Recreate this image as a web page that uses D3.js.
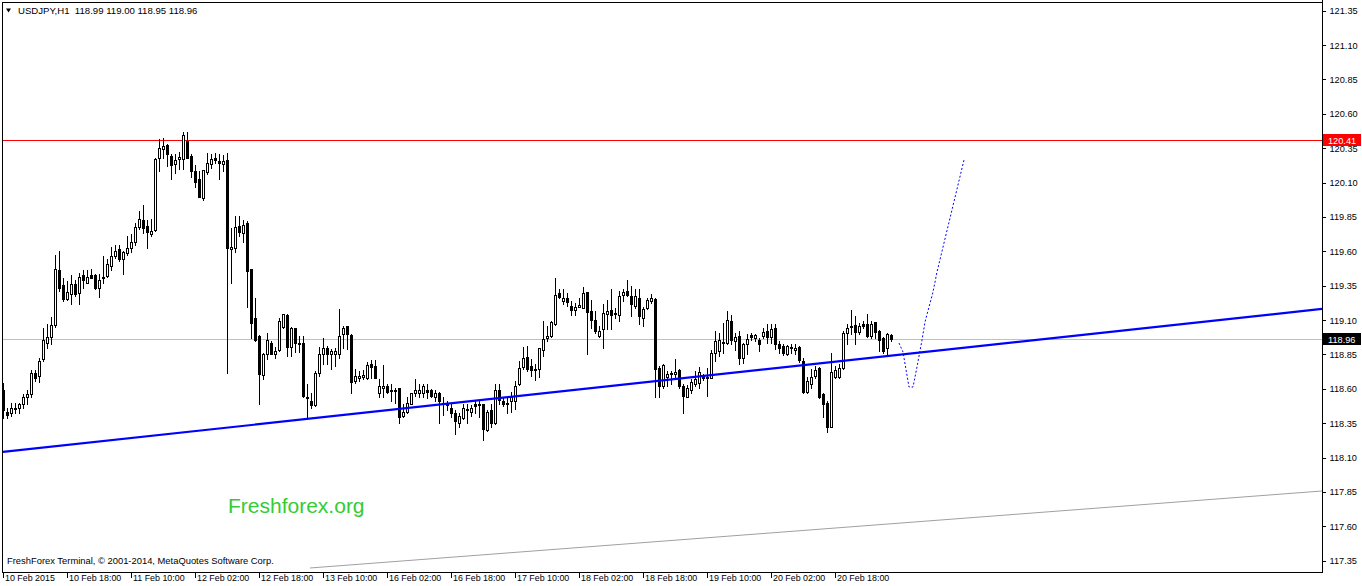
<!DOCTYPE html>
<html><head><meta charset="utf-8">
<script src="https://cdn.jsdelivr.net/npm/d3@7/dist/d3.min.js"></script>
<style>
body{margin:0;background:#fff;}
svg{display:block;font-family:"Liberation Sans",Arial,sans-serif;}
</style>
</head><body>
<svg id="c" width="1362" height="586"></svg>
<script>
// ---------------- DATA ----------------
const symbolTitle = "USDJPY,H1";
const lastQuote = ["118.99", "119.00", "118.95", "118.96"];
const timeLabels = ["10 Feb 2015","10 Feb 18:00","11 Feb 10:00","12 Feb 02:00","12 Feb 18:00","13 Feb 10:00",
  "16 Feb 02:00","16 Feb 18:00","17 Feb 10:00","18 Feb 02:00","18 Feb 18:00","19 Feb 10:00","20 Feb 02:00","20 Feb 18:00"];
const barsPerTimeLabel = 16;
const priceTicks = [121.35,121.10,120.85,120.60,120.35,120.10,119.85,119.60,119.35,119.10,118.85,118.60,118.35,118.10,117.85,117.60,117.35];

const opens = [
118.588,118.428,118.421,118.450,118.457,118.493,118.537,118.559,118.718,118.696,
118.820,118.936,118.979,119.066,119.465,119.356,119.255,119.291,119.363,119.298,
119.429,119.371,119.429,119.429,119.334,119.407,119.421,119.494,119.566,119.617,
119.545,119.588,119.624,119.668,119.777,119.827,119.784,119.726,119.755,120.277,
120.342,120.371,120.291,120.233,120.270,120.270,120.400,120.291,120.183,120.125,
119.987,120.175,120.233,120.277,120.255,120.233,120.262,119.617,119.624,119.784,
119.733,119.806,119.472,119.117,118.986,118.704,118.856,118.936,118.856,118.885,
119.052,119.139,118.907,119.044,118.936,118.936,118.544,118.515,118.479,118.718,
118.856,118.899,118.856,118.856,118.856,119.001,119.059,118.994,118.660,118.682,
118.689,118.682,118.783,118.769,118.566,118.609,118.624,118.588,118.588,118.609,
118.399,118.428,118.493,118.573,118.573,118.573,118.595,118.595,118.537,118.566,
118.493,118.500,118.464,118.421,118.348,118.385,118.443,118.428,118.486,118.479,
118.486,118.298,118.443,118.348,118.595,118.515,118.486,118.508,118.515,118.638,
118.761,118.834,118.769,118.740,118.747,118.885,118.972,118.986,119.073,119.298,
119.240,119.262,119.204,119.175,119.197,119.189,119.305,119.168,119.102,118.986,
119.037,119.146,119.175,119.146,119.139,119.284,119.313,119.276,119.204,119.262,
119.117,119.189,119.240,119.255,118.754,118.617,118.689,118.711,118.711,118.740,
118.617,118.544,118.595,118.638,118.645,118.696,118.682,118.682,118.863,118.878,
118.936,118.936,119.095,118.950,118.986,118.827,118.928,118.994,118.972,118.957,
118.986,119.023,118.979,119.044,118.928,118.914,118.856,118.899,118.885,118.907,
118.805,118.580,118.638,118.696,118.754,118.559,118.500,118.319,118.689,118.689,
118.754,119.008,119.052,119.066,119.015,119.073,119.073,118.986,119.088,119.023,
118.972,118.899,118.990];

const highs = [
118.645,118.464,118.500,118.500,118.500,118.559,118.588,118.740,118.740,118.827,
119.044,119.073,119.124,119.574,119.603,119.407,119.385,119.429,119.392,119.443,
119.465,119.465,119.472,119.436,119.436,119.566,119.545,119.632,119.646,119.646,
119.603,119.711,119.726,119.806,119.893,119.936,119.827,119.835,120.277,120.415,
120.422,120.378,120.306,120.306,120.320,120.465,120.465,120.306,120.226,120.183,
120.190,120.313,120.306,120.313,120.306,120.299,120.313,119.769,119.856,119.856,
119.827,119.820,119.472,119.262,118.994,118.863,119.008,118.950,118.907,119.117,
119.146,119.146,119.052,119.044,118.986,118.986,118.638,118.573,118.733,118.907,
118.972,118.914,118.892,118.899,119.182,119.059,119.059,119.001,118.747,118.733,
118.740,118.798,118.812,118.812,118.675,118.776,118.638,118.638,118.609,118.609,
118.493,118.537,118.573,118.675,118.638,118.638,118.638,118.602,118.588,118.580,
118.537,118.515,118.493,118.443,118.421,118.493,118.493,118.479,118.515,118.522,
118.493,118.443,118.493,118.638,118.638,118.544,118.537,118.580,118.660,118.805,
118.907,118.914,118.820,118.783,118.899,119.095,119.059,119.095,119.407,119.327,
119.327,119.298,119.240,119.226,119.262,119.342,119.305,119.247,119.168,119.059,
119.218,119.247,119.327,119.189,119.313,119.327,119.392,119.349,119.327,119.327,
119.197,119.262,119.291,119.262,118.769,118.783,118.733,118.733,118.820,118.747,
118.638,118.631,118.675,118.733,118.762,118.711,118.754,118.885,119.023,119.008,
119.081,119.168,119.139,119.008,119.023,118.936,119.001,119.008,119.001,118.972,
119.044,119.073,119.073,119.073,118.950,118.928,118.921,118.928,118.928,118.914,
118.827,118.689,118.747,118.769,118.762,118.566,118.515,118.863,118.769,118.783,
119.023,119.073,119.175,119.131,119.081,119.095,119.146,119.095,119.088,119.030,
118.979,119.008,119.000];

const lows = [
118.385,118.385,118.399,118.421,118.421,118.457,118.486,118.537,118.660,118.653,
118.805,118.899,118.928,119.052,119.313,119.240,119.247,119.218,119.276,119.218,
119.334,119.371,119.407,119.327,119.269,119.371,119.414,119.465,119.552,119.530,
119.436,119.574,119.595,119.646,119.762,119.733,119.624,119.711,119.748,120.183,
120.277,120.219,120.125,120.168,120.197,120.197,120.277,120.139,120.067,119.994,
119.972,120.161,120.204,120.241,120.125,120.183,118.718,119.371,119.595,119.711,
119.668,119.197,118.972,118.950,118.493,118.675,118.820,118.856,118.827,118.878,
119.044,118.841,118.841,118.870,118.870,118.537,118.392,118.464,118.472,118.696,
118.783,118.783,118.747,118.769,118.827,118.899,118.892,118.573,118.645,118.660,
118.675,118.675,118.682,118.682,118.544,118.537,118.573,118.515,118.500,118.348,
118.392,118.421,118.486,118.551,118.537,118.537,118.530,118.537,118.515,118.348,
118.406,118.443,118.392,118.269,118.319,118.377,118.348,118.399,118.421,118.392,
118.225,118.290,118.319,118.341,118.493,118.472,118.421,118.428,118.450,118.631,
118.747,118.733,118.696,118.667,118.689,118.841,118.950,118.979,119.066,119.262,
119.218,119.204,119.139,119.139,119.197,119.189,118.856,119.044,119.008,118.979,
118.899,119.037,119.037,119.117,119.095,119.240,119.276,119.131,119.189,119.073,
119.059,119.182,119.226,118.537,118.537,118.609,118.624,118.638,118.675,118.609,
118.421,118.537,118.566,118.624,118.609,118.667,118.551,118.682,118.805,118.841,
118.863,118.928,118.928,118.885,118.783,118.790,118.856,118.957,118.950,118.878,
118.972,118.936,118.936,118.892,118.863,118.849,118.849,118.863,118.856,118.798,
118.573,118.566,118.609,118.682,118.530,118.392,118.283,118.319,118.682,118.682,
118.747,118.928,119.001,118.928,119.001,119.044,118.979,118.972,118.972,118.878,
118.863,118.856,118.950];

const closes = [
118.443,118.406,118.457,118.457,118.486,118.537,118.559,118.718,118.682,118.805,
118.957,118.979,119.066,119.472,119.334,119.255,119.305,119.363,119.291,119.414,
119.392,119.414,119.407,119.334,119.392,119.414,119.508,119.566,119.603,119.545,
119.595,119.624,119.668,119.777,119.835,119.769,119.740,119.748,120.270,120.349,
120.364,120.306,120.226,120.262,120.284,120.444,120.277,120.183,120.103,119.994,
120.190,120.241,120.270,120.262,120.241,120.255,119.624,119.632,119.777,119.740,
119.791,119.458,119.081,118.957,118.711,118.856,118.957,118.856,118.878,119.095,
119.146,118.907,119.044,118.936,118.928,118.551,118.530,118.479,118.718,118.856,
118.899,118.856,118.878,118.878,118.986,119.044,119.001,118.653,118.696,118.696,
118.704,118.776,118.762,118.682,118.617,118.624,118.580,118.595,118.595,118.392,
118.428,118.500,118.566,118.595,118.588,118.624,118.580,118.551,118.573,118.515,
118.500,118.479,118.421,118.363,118.399,118.457,118.450,118.464,118.472,118.486,
118.305,118.428,118.348,118.588,118.522,118.493,118.500,118.537,118.624,118.754,
118.827,118.747,118.740,118.747,118.899,118.965,118.986,119.088,119.284,119.269,
119.262,119.233,119.175,119.197,119.211,119.298,119.160,119.102,119.023,119.023,
119.153,119.168,119.139,119.153,119.276,119.305,119.284,119.218,119.276,119.131,
119.182,119.247,119.262,118.747,118.617,118.776,118.711,118.718,118.725,118.617,
118.551,118.609,118.653,118.675,118.725,118.682,118.689,118.863,118.950,118.957,
118.943,119.102,118.957,118.979,118.827,118.928,118.965,118.979,118.994,118.928,
119.015,118.979,119.037,118.928,118.899,118.863,118.914,118.907,118.899,118.812,
118.580,118.660,118.689,118.740,118.537,118.486,118.319,118.725,118.740,118.754,
119.008,119.044,119.059,119.015,119.059,119.059,118.986,119.073,119.015,118.957,
118.878,119.001,118.960];

const resistanceLevel = 120.41;
const bidLevel = 118.96;
// trend lines as [bar index, price] anchor pairs
const blueTrendBars = [0, 329.75];
const blueTrendPrices = [118.141, 119.181];
const greyTrendBars = [76.75, 329.75];
const greyTrendPrices = [117.297, 117.857];
// hand-drawn forecast (dashed blue)
const forecastBars = [224, 225, 226.5, 227.5, 228.5, 229.75, 230.5, 232.5, 233.5, 240.25];
const forecastPrices = [118.933, 118.868, 118.613, 118.613, 118.759, 118.955, 119.086, 119.304, 119.450, 120.264];
const watermark = "Freshforex.org";
const copyright = "FreshForex Terminal, \u00A9 2001-2014, MetaQuotes Software Corp.";

// ---------------- LAYOUT ----------------
const svg = d3.select("#c");
const plot = {left: 2, right: 1322, top: 2, bottom: 572};
const x = d3.scaleLinear().domain([0, 330]).range([3, 1323]);
const y = d3.scaleLinear().domain([117.35, 121.35]).range([560.7, 10.7]);

svg.append("rect").attr("width",1362).attr("height",586).attr("fill","#fff");
svg.append("defs").append("clipPath").attr("id","clip")
  .append("rect").attr("x",plot.left).attr("y",plot.top)
  .attr("width",plot.right-plot.left).attr("height",plot.bottom-plot.top);

const g = svg.append("g").attr("clip-path","url(#clip)");

// horizontal lines
g.append("line").attr("x1",plot.left).attr("x2",plot.right)
  .attr("y1",Math.round(y(bidLevel))+0.5).attr("y2",Math.round(y(bidLevel))+0.5)
  .attr("stroke","#c0c0c0").attr("stroke-width",1);
g.append("line").attr("x1",plot.left).attr("x2",plot.right)
  .attr("y1",Math.round(y(resistanceLevel))+0.5).attr("y2",Math.round(y(resistanceLevel))+0.5)
  .attr("stroke","#ff0000").attr("stroke-width",1);

// grey thin trend
g.append("line")
  .attr("x1",x(greyTrendBars[0])).attr("y1",y(greyTrendPrices[0]))
  .attr("x2",x(greyTrendBars[1])).attr("y2",y(greyTrendPrices[1]))
  .attr("stroke","#a0a0a0").attr("stroke-width",1);

// candles
const idx = d3.range(opens.length);
const cg = g.append("g").attr("shape-rendering","crispEdges");
idx.forEach(i => {
  const cx = Math.round(x(i));
  const o = opens[i], c = closes[i], h = highs[i], l = lows[i];
  const yh = Math.round(y(h)), yl = Math.round(y(l));
  cg.append("line").attr("x1",cx+0.5).attr("x2",cx+0.5).attr("y1",yh).attr("y2",yl+1)
    .attr("stroke","#000").attr("stroke-width",1);
  const top = Math.round(y(Math.max(o,c))), bot = Math.round(y(Math.min(o,c)));
  if (c > o) {
    cg.append("rect").attr("x",cx-0.5).attr("y",top+0.5).attr("width",2)
      .attr("height",Math.max(bot-top,1)).attr("fill","#fff").attr("stroke","#000").attr("stroke-width",1);
  } else {
    cg.append("rect").attr("x",cx-1).attr("y",top).attr("width",3)
      .attr("height",Math.max(bot-top,1)+ (bot-top<1?0:1)).attr("fill","#000");
  }
});

// blue trend line
g.append("line")
  .attr("x1",x(blueTrendBars[0])).attr("y1",y(blueTrendPrices[0]))
  .attr("x2",x(blueTrendBars[1])).attr("y2",y(blueTrendPrices[1]))
  .attr("stroke","#0000ff").attr("stroke-width",2.2);

// forecast dashed path
g.append("path")
  .attr("d", d3.line().x(d=>x(d)).y((d,k)=>y(forecastPrices[k]))(forecastBars))
  .attr("fill","none").attr("stroke","#0000ff").attr("stroke-width",1).attr("stroke-dasharray","2,2");

// watermark
svg.append("text").attr("x",228).attr("y",513).attr("fill","#33cc33")
  .attr("font-size",21).text(watermark);

// copyright
svg.append("text").attr("x",7).attr("y",564).attr("font-size",9.4).attr("fill","#000").text(copyright);

// header
svg.append("path").attr("d","M6,8.5 L11,8.5 L8.5,12.5 Z").attr("fill","#000");
svg.append("text").attr("x",18).attr("y",14).attr("font-size",9.6).attr("fill","#000")
  .attr("xml:space","preserve")
  .text(symbolTitle + "  " + lastQuote.join(" "));

// frame
const frame = svg.append("g").attr("shape-rendering","crispEdges").attr("stroke","#000").attr("stroke-width",1);
frame.append("line").attr("x1",plot.left+0.5).attr("x2",plot.left+0.5).attr("y1",plot.top).attr("y2",plot.bottom+1);
frame.append("line").attr("x1",plot.left).attr("x2",plot.right+1).attr("y1",plot.bottom+0.5).attr("y2",plot.bottom+0.5);
frame.append("line").attr("x1",plot.right+0.5).attr("x2",plot.right+0.5).attr("y1",0).attr("y2",plot.bottom+1);
frame.append("line").attr("x1",plot.left).attr("x2",plot.right+1).attr("y1",plot.top+0.5).attr("y2",plot.top+0.5);

// right price axis
const yAxis = d3.axisRight(y).tickValues(priceTicks).tickFormat(d3.format(".2f")).tickSize(3).tickPadding(4);
const ya = svg.append("g").attr("transform",`translate(${plot.right+0.5},0)`).call(yAxis);
ya.select(".domain").remove();
ya.selectAll("line").attr("stroke","#000").attr("shape-rendering","crispEdges");
ya.selectAll("text").attr("font-size",9.2).attr("font-family","Liberation Sans, Arial, sans-serif").attr("fill","#000");

// bottom time axis
const tickBars = timeLabels.map((_,k)=>k*barsPerTimeLabel);
const xAxis = d3.axisBottom(x).tickValues(tickBars).tickFormat((d,k)=>timeLabels[k]).tickSize(5);
const xa = svg.append("g").attr("transform",`translate(0,${plot.bottom+0.5})`).call(xAxis);
xa.select(".domain").remove();
xa.selectAll("line").attr("stroke","#000").attr("shape-rendering","crispEdges");
xa.selectAll("text").attr("text-anchor","start").attr("dx",1.5).attr("y",8.5).attr("dy",0)
  .attr("font-size",8.9).attr("font-family","Liberation Sans, Arial, sans-serif").attr("fill","#000");

// price labels
function priceTag(price, bg){
  const yy = Math.round(y(price));
  svg.append("rect").attr("x",plot.right+1).attr("y",yy-6).attr("width",38).attr("height",12).attr("fill",bg);
  svg.append("text").attr("x",plot.right+6).attr("y",yy+3.5).attr("font-size",9.2).attr("fill","#fff")
    .text(d3.format(".2f")(price));
}
priceTag(resistanceLevel, "#ff0000");
priceTag(bidLevel, "#000000");
</script>
</body></html>
